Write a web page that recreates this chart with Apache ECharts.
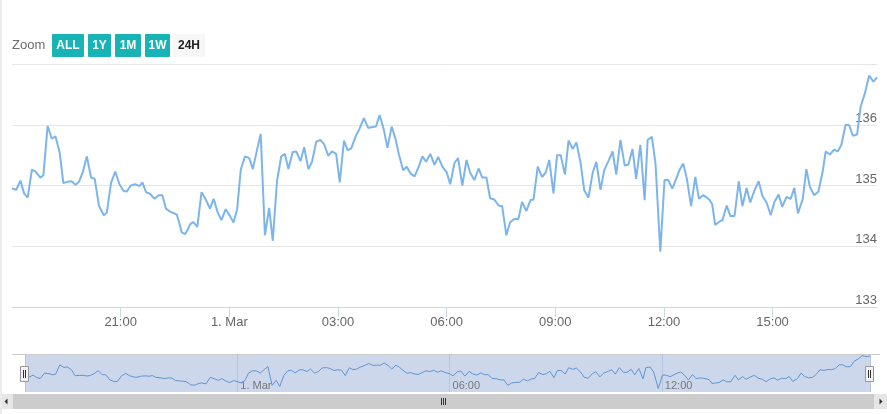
<!DOCTYPE html>
<html><head><meta charset="utf-8">
<script src="https://cdn.jsdelivr.net/npm/echarts@6/dist/echarts.min.js"></script>
<style>html,body{margin:0;padding:0;background:#fff}#c{width:887px;height:414px}</style>
</head><body><div id="c"></div>
<script>
// ---- data ----
const times = ['18:00','18:07','18:14','18:20','18:26','18:33','18:39','18:47','18:52','18:59','19:06','19:12','19:19','19:25','19:32','19:39','19:45','19:51','19:57','20:04','20:11','20:17','20:24','20:32','20:37','20:44','20:51','20:58','21:05','21:10','21:17','21:24','21:31','21:36','21:42','21:49','21:56','22:03','22:09','22:15','22:22','22:27','22:33','22:37','22:41','22:47','22:51','22:55','23:00','23:07','23:14','23:21','23:28','23:34','23:41','23:47','23:54','00:01','00:07','00:13','00:19','00:26','00:33','00:39','00:46','00:52','00:59','01:06','01:12','01:19','01:26','01:32','01:38','01:45','01:51','01:58','02:04','02:11','02:17','02:24','02:31','02:37','02:44','02:50','02:57','03:03','03:10','03:16','03:22','03:29','03:36','03:43','03:50','03:56','04:03','04:09','04:16','04:22','04:29','04:35','04:41','04:48','04:54','05:00','05:07','05:13','05:20','05:26','05:33','05:40','05:46','05:53','06:00','06:06','06:13','06:19','06:26','06:33','06:39','06:46','06:53','06:59','07:06','07:12','07:19','07:26','07:32','07:39','07:45','07:52','07:59','08:05','08:12','08:19','08:24','08:31','08:38','08:44','08:50','08:57','09:03','09:09','09:16','09:22','09:29','09:35','09:42','09:48','09:55','10:02','10:08','10:15','10:21','10:28','10:35','10:41','10:48','10:55','11:01','11:08','11:14','11:21','11:28','11:33','11:40','11:46','11:54','12:01','12:07','12:14','12:20','12:26','12:32','12:38','12:45','12:52','12:58','13:05','13:10','13:15','13:20','13:25','13:31','13:37','13:44','13:50','13:57','14:04','14:10','14:17','14:23','14:30','14:37','14:43','14:50','14:57','15:03','15:10','15:16','15:23','15:30','15:36','15:42','15:50','15:56','16:02','16:09','16:16','16:23','16:28','16:35','16:42','16:48','16:54','17:01','17:07','17:13','17:20','17:26','17:33','17:40','17:47','17:53'];
const values = [134.95,134.93,135.08,134.87,134.80,135.26,135.23,135.13,135.17,135.98,135.77,135.81,135.54,135.04,135.06,135.07,135.01,135.06,135.21,135.48,135.13,135.11,134.67,134.51,134.55,135.04,135.23,135.02,134.91,134.90,135.00,135.02,134.99,135.05,134.89,134.86,134.78,134.84,134.84,134.62,134.57,134.55,134.52,134.39,134.23,134.20,134.27,134.36,134.40,134.32,134.89,134.77,134.62,134.78,134.55,134.43,134.61,134.50,134.39,134.61,135.26,135.48,135.45,135.27,135.59,135.85,134.18,134.63,134.09,135.07,135.48,135.52,135.27,135.55,135.56,135.40,135.63,135.27,135.39,135.72,135.75,135.68,135.49,135.56,135.52,135.05,135.74,135.58,135.61,135.80,135.94,136.11,135.95,135.96,135.97,136.16,135.92,135.62,135.97,135.78,135.51,135.25,135.31,135.20,135.15,135.29,135.48,135.39,135.52,135.34,135.47,135.31,135.22,135.02,135.37,135.45,135.00,135.42,135.21,135.09,135.28,135.13,135.13,134.79,134.77,134.67,134.66,134.18,134.39,134.45,134.45,134.73,134.58,134.76,134.77,135.31,135.14,135.21,135.42,134.87,135.50,135.50,135.18,135.74,135.60,135.71,135.37,134.92,134.80,135.21,135.39,134.93,135.25,135.40,135.56,135.18,135.75,135.33,135.34,135.60,135.11,135.67,134.76,135.75,135.80,135.37,133.91,135.09,135.09,134.95,135.10,135.26,135.36,135.11,134.66,135.14,134.78,134.84,134.81,134.77,134.69,134.35,134.40,134.43,134.67,134.50,134.50,135.07,134.66,134.96,134.72,134.92,135.07,134.83,134.72,134.51,134.73,134.85,134.65,134.81,134.78,134.96,134.54,134.78,135.27,134.97,134.84,134.90,135.23,135.56,135.51,135.59,135.56,135.67,136.00,135.99,135.82,135.84,136.30,136.52,136.81,136.71,136.78];
const startDate = [2023, 1, 28];           // 28 Feb 2023, first point
const xTickTimes = ['21:00','00:00','03:00','06:00','09:00','12:00','15:00'];
const navTickTimes = ['00:00','06:00','12:00'];
const yTicks = [133, 134, 135, 136, 137];
const rangeButtons = ['ALL', '1Y', '1M', '1W', '24H'];
const monthNames = ['Jan','Feb','Mar','Apr','May','Jun','Jul','Aug','Sep','Oct','Nov','Dec'];

// ---- helpers ----
function toTimestamps(arr, firstHour) {
  let day = startDate[2], prev = firstHour;
  return arr.map(s => {
    const [h, m] = s.split(':').map(Number);
    if (h < prev) day++;
    prev = h;
    return Date.UTC(startDate[0], startDate[1], day, h, m);
  });
}
const ts = toTimestamps(times, 18);
const seriesData = ts.map((t, i) => [t, values[i]]);
const xTicks = toTimestamps(xTickTimes, 18);
const navTicks = toTimestamps(navTickTimes, 18);
function fmt(v) {
  const d = new Date(v);
  const h = d.getUTCHours(), m = d.getUTCMinutes();
  if (h === 0 && m === 0) return d.getUTCDate() + '. ' + monthNames[d.getUTCMonth()];
  return String(h).padStart(2, '0') + ':' + String(m).padStart(2, '0');
}
const FONT = '"Liberation Sans", Arial, sans-serif';

// ---- range selector graphic ----
const teal = '#17b3b5';
const btnGeom = [[52, 32], [88, 23], [115, 26], [145, 25], [173, 32]];
const rangeGraphic = [{ type: 'text', x: 12, y: 45, style: { text: 'Zoom', fill: '#6b6b6b', font: '13px ' + FONT, verticalAlign: 'middle' } }];
rangeButtons.forEach((b, i) => {
  const [x, w] = btnGeom[i];
  const selected = i === rangeButtons.length - 1;
  rangeGraphic.push({ type: 'rect', shape: { x: x, y: 34, width: w, height: 23, r: 1 }, style: { fill: selected ? '#f7f7f7' : teal } });
  rangeGraphic.push({ type: 'text', x: x + w / 2, y: 46, style: { text: b, fill: selected ? '#222' : '#fff', font: 'bold 12px ' + FONT, align: 'center', verticalAlign: 'middle' } });
});

// ---- navigator / scrollbar graphic ----
const navLeft = 25, navRight = 870, navTop = 354, navBottom = 392;
const navGraphic = [
  { type: 'rect', z: -10, shape: { x: navLeft, y: navTop, width: navRight - navLeft, height: navBottom - navTop }, style: { fill: 'rgba(102,133,194,0.33)' } },
  { type: 'line', shape: { x1: 12, y1: navTop + 0.5, x2: 880, y2: navTop + 0.5 }, style: { stroke: '#cccccc', lineWidth: 1 } }
];
[navLeft, navRight].forEach(cx => {
  navGraphic.push({ type: 'rect', z: 20, shape: { x: cx - 4.5, y: 366.5, width: 8, height: 15 }, style: { fill: '#f2f2f2', stroke: '#999', lineWidth: 1 } });
  navGraphic.push({ type: 'line', z: 21, shape: { x1: cx - 1.5, y1: 370, x2: cx - 1.5, y2: 378 }, style: { stroke: '#333', lineWidth: 1 } });
  navGraphic.push({ type: 'line', z: 21, shape: { x1: cx + 0.5, y1: 370, x2: cx + 0.5, y2: 378 }, style: { stroke: '#333', lineWidth: 1 } });
});
// scrollbar
const sbTop = 394, sbH = 15;
navGraphic.push({ type: 'rect', shape: { x: 0, y: sbTop, width: 887, height: sbH }, style: { fill: '#f2f2f2' } });
navGraphic.push({ type: 'rect', shape: { x: 13, y: sbTop, width: 861, height: sbH }, style: { fill: '#cccccc' } });
navGraphic.push({ type: 'rect', shape: { x: 0, y: sbTop, width: 13, height: sbH }, style: { fill: '#e6e6e6' } });
navGraphic.push({ type: 'rect', shape: { x: 874, y: sbTop, width: 13, height: sbH }, style: { fill: '#e6e6e6' } });
navGraphic.push({ type: 'polygon', shape: { points: [[7.5, 398.5], [7.5, 404.5], [4.5, 401.5]] }, style: { fill: '#333' } });
navGraphic.push({ type: 'polygon', shape: { points: [[879.5, 398.5], [879.5, 404.5], [882.5, 401.5]] }, style: { fill: '#333' } });
[441.5, 443.5, 445.5].forEach(x => navGraphic.push({ type: 'line', shape: { x1: x, y1: 398, x2: x, y2: 405 }, style: { stroke: '#333', lineWidth: 1 } }));
// faint page edge at left
navGraphic.push({ type: 'rect', shape: { x: 0, y: 0, width: 2, height: 414 }, style: { fill: '#ececec' } });

const chart = echarts.init(document.getElementById('c'), null, { renderer: 'canvas' });
chart.setOption({
  animation: false,
  backgroundColor: '#fff',
  textStyle: { fontFamily: FONT },
  grid: [
    { left: 12, right: 10, top: 64, height: 243 },
    { left: navLeft, right: 887 - navRight, top: navTop, height: navBottom - navTop }
  ],
  xAxis: [
    {
      type: 'value', gridIndex: 0, min: ts[0], max: ts[ts.length - 1], interval: 3 * 3600e3,
      axisLine: { show: true, lineStyle: { color: '#ccd6eb' } },
      axisTick: { show: true, length: 10, lineStyle: { color: '#ccd6eb' }, customValues: xTicks },
      axisLabel: { customValues: xTicks, formatter: fmt, color: '#666', fontSize: 13, margin: 9 },
      splitLine: { show: false }
    },
    {
      type: 'value', gridIndex: 1, min: ts[0], max: ts[ts.length - 1], interval: 6 * 3600e3,
      axisLine: { show: false }, axisTick: { show: false },
      axisLabel: { inside: true, customValues: navTicks, formatter: fmt, color: '#777', fontSize: 11, margin: 1, align: 'left', padding: [0, 0, 0, 3] },
      splitLine: { show: true, lineStyle: { color: '#b8c3dc' } }
    }
  ],
  yAxis: [
    {
      type: 'value', gridIndex: 0, position: 'right', min: yTicks[0], max: yTicks[yTicks.length - 1], interval: 1,
      axisLine: { show: false }, axisTick: { show: false },
      axisLabel: { inside: true, margin: 0, color: '#666', fontSize: 13, verticalAlign: 'bottom', padding: [0, 0, 0, 0], showMaxLabel: false },
      splitLine: { show: true, lineStyle: { color: '#e6e6e6' } }
    },
    { type: 'value', gridIndex: 1, min: 133.6, max: 136.95, show: false, splitLine: { show: false } }
  ],
  series: [
    { type: 'line', xAxisIndex: 0, yAxisIndex: 0, data: seriesData, showSymbol: false, lineStyle: { color: '#7cb5ec', width: 2 }, itemStyle: { color: '#7cb5ec' }, z: 3 },
    { type: 'line', xAxisIndex: 1, yAxisIndex: 1, data: seriesData, showSymbol: false, lineStyle: { color: '#5f95d3', width: 1 }, itemStyle: { color: '#5f95d3' }, z: 3 }
  ],
  graphic: rangeGraphic.concat(navGraphic)
});
</script>
</body></html>
